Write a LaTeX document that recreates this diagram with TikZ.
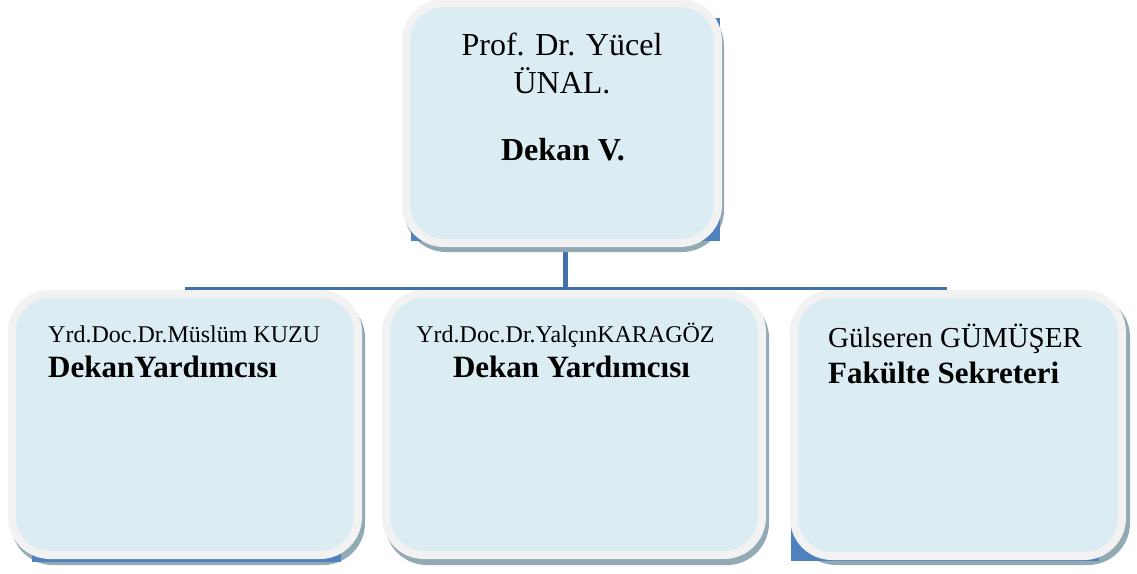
\documentclass[tikz,border=0pt]{standalone}
\usepackage{fontspec}
\setmainfont{Liberation Serif}
\usetikzlibrary{calc}
\definecolor{boxfill}{RGB}{219,237,243}
\definecolor{boxrim}{RGB}{242,242,242}
\definecolor{shc}{RGB}{145,170,180}
\definecolor{backblue}{RGB}{79,129,189}
\definecolor{connblue}{RGB}{66,112,168}
\pgfdeclarelayer{connlayer}
\pgfdeclarelayer{shadowlayer}
\pgfdeclarelayer{bluelayer}
\pgfsetlayers{connlayer,shadowlayer,bluelayer,main}
\tikzset{
  card/.style={draw=boxrim, fill=boxfill, line width=8pt, rounded corners=38pt, inner sep=0pt},
  backrect/.style={fill=backblue, inner sep=0pt, outer sep=0pt},
  cardshadow/.style={fill=shc, rounded corners=42pt},
  conn/.style={draw=connblue},
  nametxt/.style={inner sep=0pt, font=\fontsize{24}{28}\selectfont},
  bignametxt/.style={inner sep=0pt, font=\fontsize{29}{34}\selectfont},
  toptxt/.style={inner sep=0pt, anchor=base, font=\fontsize{32}{38}\selectfont},
  titletxt/.style={inner sep=0pt, font=\bfseries\fontsize{31}{36}\selectfont},
  toptitle/.style={inner sep=0pt, anchor=base, font=\bfseries\fontsize{32}{38}\selectfont}
}
\begin{document}
\begin{tikzpicture}[x=1pt,y=-1pt]
\useasboundingbox (0,0) rectangle (1137,573);
% cards
\node[card, minimum width=312pt, minimum height=240pt] (r0) at (562,123) {};
\node[card, minimum width=346pt, minimum height=261pt] (r1) at (185,424.5) {};
\node[card, minimum width=376pt, minimum height=261pt] (r2) at (574,424.5) {};
\node[card, minimum width=328pt, minimum height=262pt] (r3) at (958,425) {};
% texts
\node[toptxt] (t0a) at (562,55) {Prof. Dr. Yücel};
\node[toptxt] (t0b) at (562,93) {ÜNAL.};
\node[toptitle] (t0c) at (563,160) {Dekan V.};
\node[nametxt, anchor=base west] (t1a) at (48,342) {Yrd.Doc.Dr.Müslüm KUZU};
\node[titletxt, anchor=base west] (t1b) at (48,377) {DekanYardımcısı};
\node[nametxt, anchor=base] (t2a) at (565.5,342) {Yrd.Doc.Dr.YalçınKARAGÖZ};
\node[titletxt, anchor=base] (t2b) at (571.5,377) {Dekan Yardımcısı};
\node[bignametxt, anchor=base west] (t3a) at (828,347) {Gülseren GÜMÜŞER};
\node[titletxt, anchor=base west] (t3b) at (828,383) {Fakülte Sekreteri};
% blue back rectangles (the chart's nodes)
\begin{pgfonlayer}{bluelayer}
\node[backrect, minimum width=309pt, minimum height=223pt] (b0) at (565.5,129.5) {};
\node[backrect, minimum width=309pt, minimum height=222pt] (b1) at (186,451) {};
\node[backrect, minimum width=310pt, minimum height=210pt] (b2) at (565.5,445) {};
\node[backrect, minimum width=308pt, minimum height=221pt] (b3) at (945,450.5) {};
\end{pgfonlayer}
% shadows
\begin{pgfonlayer}{shadowlayer}
\fill[cardshadow] ([shift={(2,5)}]r0.south west) rectangle ([shift={(2,5)}]r0.north east);
\fill[cardshadow] ([shift={(3,6)}]r1.south west) rectangle ([shift={(3,6)}]r1.north east);
\fill[cardshadow] ([shift={(3,6)}]r2.south west) rectangle ([shift={(3,6)}]r2.north east);
\fill[cardshadow] ([shift={(4,5)}]r3.south west) rectangle ([shift={(4,5)}]r3.north east);
\end{pgfonlayer}
% connectors
\begin{pgfonlayer}{connlayer}
\coordinate (busy) at (0,288);
\coordinate (bus) at (b0.south |- busy);
\draw[conn, line width=5pt] (b0.south) -- (b2.north);
\draw[conn, line width=3pt] (b1.north) |- (bus) -| (b3.north);
\end{pgfonlayer}
\end{tikzpicture}
\end{document}
